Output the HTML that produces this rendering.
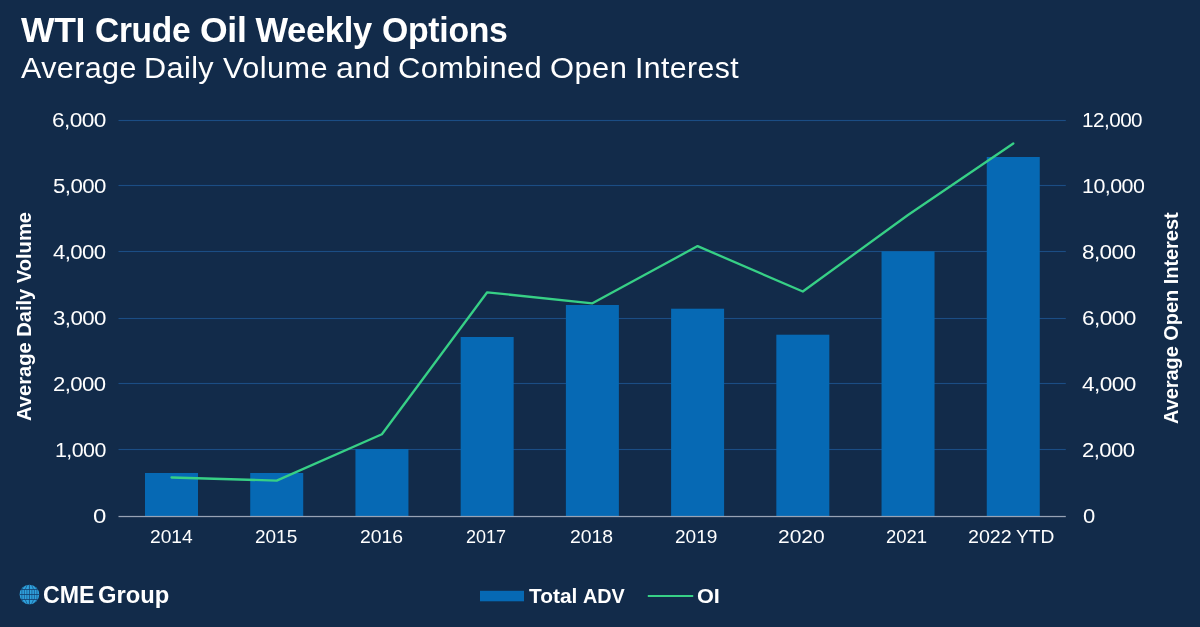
<!DOCTYPE html>
<html lang="en"><head><meta charset="utf-8"><title>WTI Crude Oil Weekly Options</title>
<style>
html,body{margin:0;padding:0}
body{width:1200px;height:627px;overflow:hidden;background:#122b4a;font-family:"Liberation Sans",Arial,sans-serif;color:#fff;position:relative}
.chart{position:absolute;left:0;top:0}
.t,.t span{position:absolute;white-space:nowrap;line-height:1;margin:0;transform-origin:0 0}
.title{font-size:34.5px;font-weight:bold}
.sub{font-size:29.5px}
.ax{font-size:19.5px}
.xl{font-size:19px}
.rot{font-size:20px;font-weight:bold}
.leg{font-size:20.3px;font-weight:bold}
.logo{font-size:23.5px;font-weight:bold}
</style></head><body>

<svg class="chart" width="1200" height="627" viewBox="0 0 1200 627">
<rect x="118.5" y="448.95" width="947.3" height="1.1" fill="#1b4d84"/>
<rect x="118.5" y="382.95" width="947.3" height="1.1" fill="#1b4d84"/>
<rect x="118.5" y="317.95" width="947.3" height="1.1" fill="#1b4d84"/>
<rect x="118.5" y="250.95" width="947.3" height="1.1" fill="#1b4d84"/>
<rect x="118.5" y="184.95" width="947.3" height="1.1" fill="#1b4d84"/>
<rect x="118.5" y="119.95" width="947.3" height="1.1" fill="#1b4d84"/>
<rect x="145.00" y="473.00" width="53.0" height="43.00" fill="#0669b4"/>
<rect x="250.22" y="473.00" width="53.0" height="43.00" fill="#0669b4"/>
<rect x="355.44" y="449.00" width="53.0" height="67.00" fill="#0669b4"/>
<rect x="460.66" y="337.00" width="53.0" height="179.00" fill="#0669b4"/>
<rect x="565.88" y="305.00" width="53.0" height="211.00" fill="#0669b4"/>
<rect x="671.10" y="308.70" width="53.0" height="207.30" fill="#0669b4"/>
<rect x="776.32" y="334.70" width="53.0" height="181.30" fill="#0669b4"/>
<rect x="881.54" y="251.30" width="53.0" height="264.70" fill="#0669b4"/>
<rect x="986.76" y="157.00" width="53.0" height="359.00" fill="#0669b4"/>
<rect x="118.5" y="515.9" width="947.3" height="1.25" fill="#98a3b5"/>
<polyline points="171.5,477.5 276.7,480.6 381.9,434.3 487.2,292.3 592.4,303.3 697.6,246.1 802.8,291.5 908.0,215.0 1013.3,143.5" fill="none" stroke="#37d086" stroke-width="2.3" stroke-linejoin="round" stroke-linecap="round"/>
<rect x="480" y="590.8" width="44" height="10.5" fill="#0669b4"/>
<line x1="647.8" x2="693.2" y1="596" y2="596" stroke="#37d086" stroke-width="2.2"/>
<g transform="translate(29.4,594.5)">
<clipPath id="gc"><circle r="9.8"/></clipPath>
<circle r="9.8" fill="#2fa2dd"/>
<g stroke="#14406e" fill="none" clip-path="url(#gc)">
<g stroke-width="0.8">
<line x1="-10" x2="10" y1="-5" y2="-5"/>
<line x1="-10" x2="10" y1="0" y2="0"/>
<line x1="-10" x2="10" y1="5" y2="5"/>
<line x1="0" x2="0" y1="-10" y2="10"/>
</g>
<g stroke-width="0.6">
<path d="M-2.5,-5 L-2.5,5 M2.5,-5 L2.5,5 M-5,-5 L-5,5 M5,-5 L5,5 M-7.5,-5 L-7.5,5 M7.5,-5 L7.5,5"/>
<path d="M-2,-10 L-4.2,-5 M2,-10 L4.2,-5 M-2,10 L-4.2,5 M2,10 L4.2,5"/>
<path d="M-5,-9 L-7.6,-5 M5,-9 L7.6,-5 M-5,9 L-7.6,5 M5,9 L7.6,5"/>
</g>
</g></g>
</svg>
<h1 class="t title" style="left:0;top:0">
<span id="t0" style="left:20.82px;top:12.70px;letter-spacing:-0.30px;transform:scaleX(1.0297)">WTI</span> <span id="t1" style="left:94.56px;top:12.70px;letter-spacing:-0.30px;transform:scaleX(0.9702)">Crude</span> <span id="t2" style="left:199.56px;top:12.70px;letter-spacing:-0.30px;transform:scaleX(1.0301)">Oil</span> <span id="t3" style="left:255.42px;top:12.70px;letter-spacing:-0.30px;transform:scaleX(1.0000)">Weekly</span> <span id="t4" style="left:382.12px;top:12.70px;letter-spacing:-0.30px;transform:scaleX(0.9796)">Options</span>
</h1>
<div class="t sub" style="left:0;top:0">
<span id="s0" style="left:21.01px;top:52.60px;letter-spacing:0.40px;transform:scaleX(1.0323)">Average</span> <span id="s1" style="left:143.74px;top:52.60px;letter-spacing:0.40px;transform:scaleX(1.0370)">Daily</span> <span id="s2" style="left:222.94px;top:52.60px;letter-spacing:0.40px;transform:scaleX(1.0406)">Volume</span> <span id="s3" style="left:335.54px;top:52.60px;letter-spacing:0.40px;transform:scaleX(1.0896)">and</span> <span id="s4" style="left:397.85px;top:52.60px;letter-spacing:0.40px;transform:scaleX(1.0477)">Combined</span> <span id="s5" style="left:550.23px;top:52.60px;letter-spacing:0.40px;transform:scaleX(1.0477)">Open</span> <span id="s6" style="left:634.51px;top:52.60px;letter-spacing:0.40px;transform:scaleX(1.0246)">Interest</span>
</div>
<div class="t ax" style="left:0;top:0">
<span id="yl0" style="left:92.78px;top:507.10px;letter-spacing:0.30px;transform:scaleX(1.2304)">0</span> <span id="yl1" style="left:54.89px;top:440.80px;letter-spacing:-0.50px;transform:scaleX(1.0981)">1,000</span> <span id="yl2" style="left:53.48px;top:375.05px;letter-spacing:-0.50px;transform:scaleX(1.1349)">2,000</span> <span id="yl3" style="left:52.52px;top:308.69px;letter-spacing:-0.50px;transform:scaleX(1.1436)">3,000</span> <span id="yl4" style="left:53.00px;top:242.88px;letter-spacing:-0.50px;transform:scaleX(1.1361)">4,000</span> <span id="yl5" style="left:52.73px;top:176.50px;letter-spacing:-0.50px;transform:scaleX(1.1430)">5,000</span> <span id="yl6" style="left:52.16px;top:111.21px;letter-spacing:-0.50px;transform:scaleX(1.1613)">6,000</span>
</div>
<div class="t ax" style="left:0;top:0">
<span id="yr0" style="left:1082.88px;top:506.64px;letter-spacing:0.30px;transform:scaleX(1.1303)">0</span> <span id="yr1" style="left:1082.33px;top:440.82px;letter-spacing:-0.50px;transform:scaleX(1.1346)">2,000</span> <span id="yr2" style="left:1082.29px;top:374.86px;letter-spacing:-0.50px;transform:scaleX(1.1604)">4,000</span> <span id="yr3" style="left:1082.19px;top:308.64px;letter-spacing:-0.50px;transform:scaleX(1.1609)">6,000</span> <span id="yr4" style="left:1082.39px;top:243.13px;letter-spacing:-0.50px;transform:scaleX(1.1530)">8,000</span> <span id="yr5" style="left:1081.76px;top:177.26px;letter-spacing:-0.50px;transform:scaleX(1.0999)">10,000</span> <span id="yr6" style="left:1081.85px;top:111.00px;letter-spacing:-0.50px;transform:scaleX(1.0605)">12,000</span>
</div>
<div class="t xl" style="left:0;top:0">
<span id="x0" style="left:149.55px;top:527.20px;transform:scaleX(1.0107)">2014</span> <span id="x1" style="left:255.31px;top:527.20px;transform:scaleX(0.9987)">2015</span> <span id="x2" style="left:359.64px;top:527.20px;transform:scaleX(1.0184)">2016</span> <span id="x3" style="left:466.04px;top:527.20px;transform:scaleX(0.9483)">2017</span> <span id="x4" style="left:570.04px;top:527.20px;transform:scaleX(1.0193)">2018</span> <span id="x5" style="left:675.04px;top:527.20px;transform:scaleX(1.0034)">2019</span> <span id="x6" style="left:777.74px;top:527.20px;transform:scaleX(1.1058)">2020</span> <span id="x7" style="left:885.96px;top:527.20px;transform:scaleX(0.9735)">2021</span> <span id="x8" style="left:967.64px;top:527.20px;transform:scaleX(1.0340)">2022</span> <span id="x9" style="left:1015.99px;top:527.20px;transform:scaleX(1.0095)">YTD</span>
</div>
<div class="t rot" style="left:0;top:0">
<span id="rl" style="left:13.50px;top:420.98px;transform:rotate(-90deg) scaleX(1.0053)">Average Daily Volume</span>
</div>
<div class="t rot" style="left:0;top:0">
<span id="rr" style="left:1161.00px;top:423.98px;transform:rotate(-90deg) scaleX(0.9949)">Average Open Interest</span>
</div>
<div class="t leg" style="left:0;top:0">
<span id="lg0" style="left:528.74px;top:586.20px;transform:scaleX(1.0310)">Total</span> <span id="lg1" style="left:582.62px;top:586.20px;transform:scaleX(0.9766)">ADV</span>
</div>
<div class="t leg" style="left:0;top:0">
<span id="lg2" style="left:696.89px;top:586.20px;transform:scaleX(1.0688)">OI</span>
</div>
<div class="t logo" style="left:0;top:0">
<span id="lo0" style="left:42.60px;top:584.20px;transform:scaleX(0.9858)">CME</span> <span id="lo1" style="left:97.92px;top:584.20px;transform:scaleX(1.0111)">Group</span>
</div>
</body></html>
